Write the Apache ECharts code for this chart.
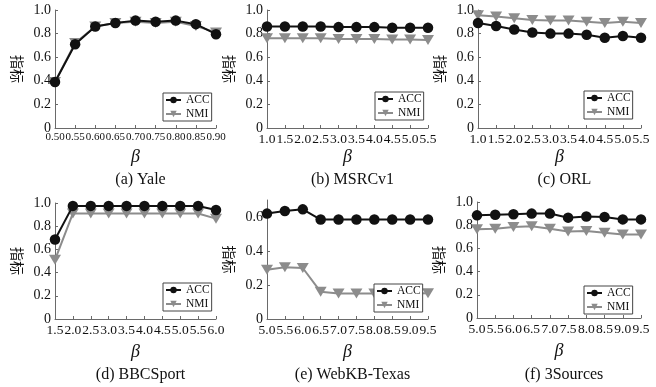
<!DOCTYPE html>
<html><head><meta charset="utf-8">
<script src="https://cdn.jsdelivr.net/npm/echarts@6/dist/echarts.min.js"></script>
<style>html,body{margin:0;padding:0;background:#fff}#c{width:656px;height:387px}</style>
</head><body><div id="c"></div>
<script>
// ---- data ----
const yaleX = ['0.50','0.55','0.60','0.65','0.70','0.75','0.80','0.85','0.90'];
const yaleACC = [0.39,0.71,0.86,0.89,0.91,0.90,0.91,0.88,0.795];
const yaleNMI = [0.39,0.72,0.86,0.89,0.90,0.89,0.90,0.865,0.81];

const msrcX = ['1.0','1.5','2.0','2.5','3.0','3.5','4.0','4.5','5.0','5.5'];
const msrcACC = [0.86,0.86,0.86,0.86,0.855,0.855,0.855,0.85,0.85,0.85];
const msrcNMI = [0.76,0.76,0.76,0.76,0.755,0.755,0.755,0.75,0.75,0.745];

const orlX = ['1.0','1.5','2.0','2.5','3.0','3.5','4.0','4.5','5.0','5.5'];
const orlACC = [0.89,0.865,0.835,0.81,0.80,0.80,0.79,0.765,0.78,0.765];
const orlNMI = [0.955,0.945,0.93,0.915,0.91,0.91,0.90,0.89,0.90,0.89];

const bbcX = ['1.5','2.0','2.5','3.0','3.5','4.0','4.5','5.0','5.5','6.0'];
const bbcACC = [0.685,0.975,0.975,0.975,0.975,0.975,0.975,0.975,0.975,0.94];
const bbcNMI = [0.51,0.91,0.91,0.91,0.91,0.91,0.91,0.91,0.91,0.865];

const texasX = ['5.0','5.5','6.0','6.5','7.0','7.5','8.0','8.5','9.0','9.5'];
const texasACC = [0.62,0.635,0.645,0.585,0.585,0.585,0.585,0.585,0.585,0.585];
const texasNMI = [0.29,0.305,0.30,0.16,0.15,0.15,0.15,0.15,0.15,0.152];

const srcX = ['5.0','5.5','6.0','6.5','7.0','7.5','8.0','8.5','9.0','9.5'];
const srcACC = [0.885,0.89,0.895,0.90,0.90,0.865,0.875,0.87,0.85,0.85];
const srcNMI = [0.765,0.77,0.785,0.79,0.77,0.745,0.75,0.735,0.72,0.72];

const captions = ['(a) Yale','(b) MSRCv1','(c) ORL','(d) BBCSport','(e) WebKB-Texas','(f) 3Sources'];
const yTicks1 = {min:0, max:1, interval:0.2};
const yTicksTexas = {min:0, max:0.7, interval:0.2};

// ---- layout ----
const panels = [
  {x:yaleX, acc:yaleACC, nmi:yaleNMI, g:{left:55, top:10, width:161, height:118}, y:yTicks1, xfs:11, lg:{left:163, top:93}},
  {x:msrcX, acc:msrcACC, nmi:msrcNMI, g:{left:267, top:10, width:161, height:118}, y:yTicks1, xfs:13.5, lg:{left:375, top:92}},
  {x:orlX, acc:orlACC, nmi:orlNMI, g:{left:478, top:10, width:163, height:118}, y:yTicks1, xfs:13.5, lg:{left:584, top:91}},
  {x:bbcX, acc:bbcACC, nmi:bbcNMI, g:{left:55, top:203, width:161, height:116}, y:yTicks1, xfs:13.5, lg:{left:163, top:283}},
  {x:texasX, acc:texasACC, nmi:texasNMI, g:{left:267, top:200, width:161, height:119}, y:yTicksTexas, xfs:13.5, lg:{left:374, top:284}},
  {x:srcX, acc:srcACC, nmi:srcNMI, g:{left:477, top:202, width:164, height:116}, y:yTicks1, xfs:13.5, lg:{left:584, top:286}}
];

const serif = '"Liberation Serif","Times New Roman",serif';
const axisColor = '#6a6a6a';
const textColor = '#111';
const grid=[], xAxis=[], yAxis=[], series=[], legend=[], title=[];

panels.forEach((p,i)=>{
  const top = i<3;
  grid.push(Object.assign({containLabel:false}, p.g));
  xAxis.push({
    type:'category', gridIndex:i, data:p.x, boundaryGap:false,
    axisLine:{lineStyle:{color:axisColor, width:1}},
    axisTick:{inside:true, length:3, lineStyle:{color:axisColor}},
    axisLabel:{interval:0, fontFamily:serif, fontSize:p.xfs, color:textColor, margin:4},
    name:'β', nameLocation:'middle', nameGap: top ? 20 : 24,
    nameTextStyle:{fontFamily:serif, fontStyle:'italic', fontSize:18, color:textColor}
  });
  yAxis.push({
    type:'value', gridIndex:i, min:p.y.min, max:p.y.max, interval:p.y.interval,
    axisLine:{show:true, lineStyle:{color:axisColor, width:1}},
    axisTick:{show:true, inside:true, length:3, lineStyle:{color:axisColor}},
    splitLine:{show:false},
    axisLabel:{showMaxLabel: p.y.max===1, fontFamily:serif, fontSize:14, color:textColor, margin:4,
      formatter:v=> v===0 ? '0' : v.toFixed(1)},
    name:'指标', nameLocation:'middle', nameRotate:-90, nameGap:31,
    nameTextStyle:{fontFamily:'"Noto Sans CJK SC",sans-serif', fontSize:14, color:textColor}
  });
  series.push({
    name:'ACC', type:'line', xAxisIndex:i, yAxisIndex:i, data:p.acc,
    symbol:'circle', symbolSize:10.5, lineStyle:{color:'#111', width:2},
    itemStyle:{color:'#111'}, z:3, animation:false
  });
  series.push({
    name:'NMI', type:'line', xAxisIndex:i, yAxisIndex:i, data:p.nmi,
    symbol:'triangle', symbolRotate:180, symbolSize:[12,10], lineStyle:{color:'#8c8c8c', width:2},
    itemStyle:{color:'#8c8c8c'}, z:2, animation:false
  });
  legend.push({
    data:['ACC','NMI'], orient:'vertical', left:p.lg.left, top:p.lg.top,
    itemWidth:15, itemHeight:8, itemGap:2, padding:[1,2,1,2],
    backgroundColor:'#fff', borderColor:'#444', borderWidth:1, borderRadius:0,
    textStyle:{fontFamily:serif, fontSize:11.5, color:textColor},
    selectedMode:false
  });
  title.push({
    text:captions[i], left:p.g.left + p.g.width/2, top: top ? 167 : 362,
    textAlign:'center',
    textStyle:{fontFamily:serif, fontWeight:'normal', fontSize:16, color:textColor}
  });
});

const chart = echarts.init(document.getElementById('c'), null, {renderer:'canvas'});
chart.setOption({animation:false, backgroundColor:'#fff', grid, xAxis, yAxis, series, legend, title});
</script></body></html>
